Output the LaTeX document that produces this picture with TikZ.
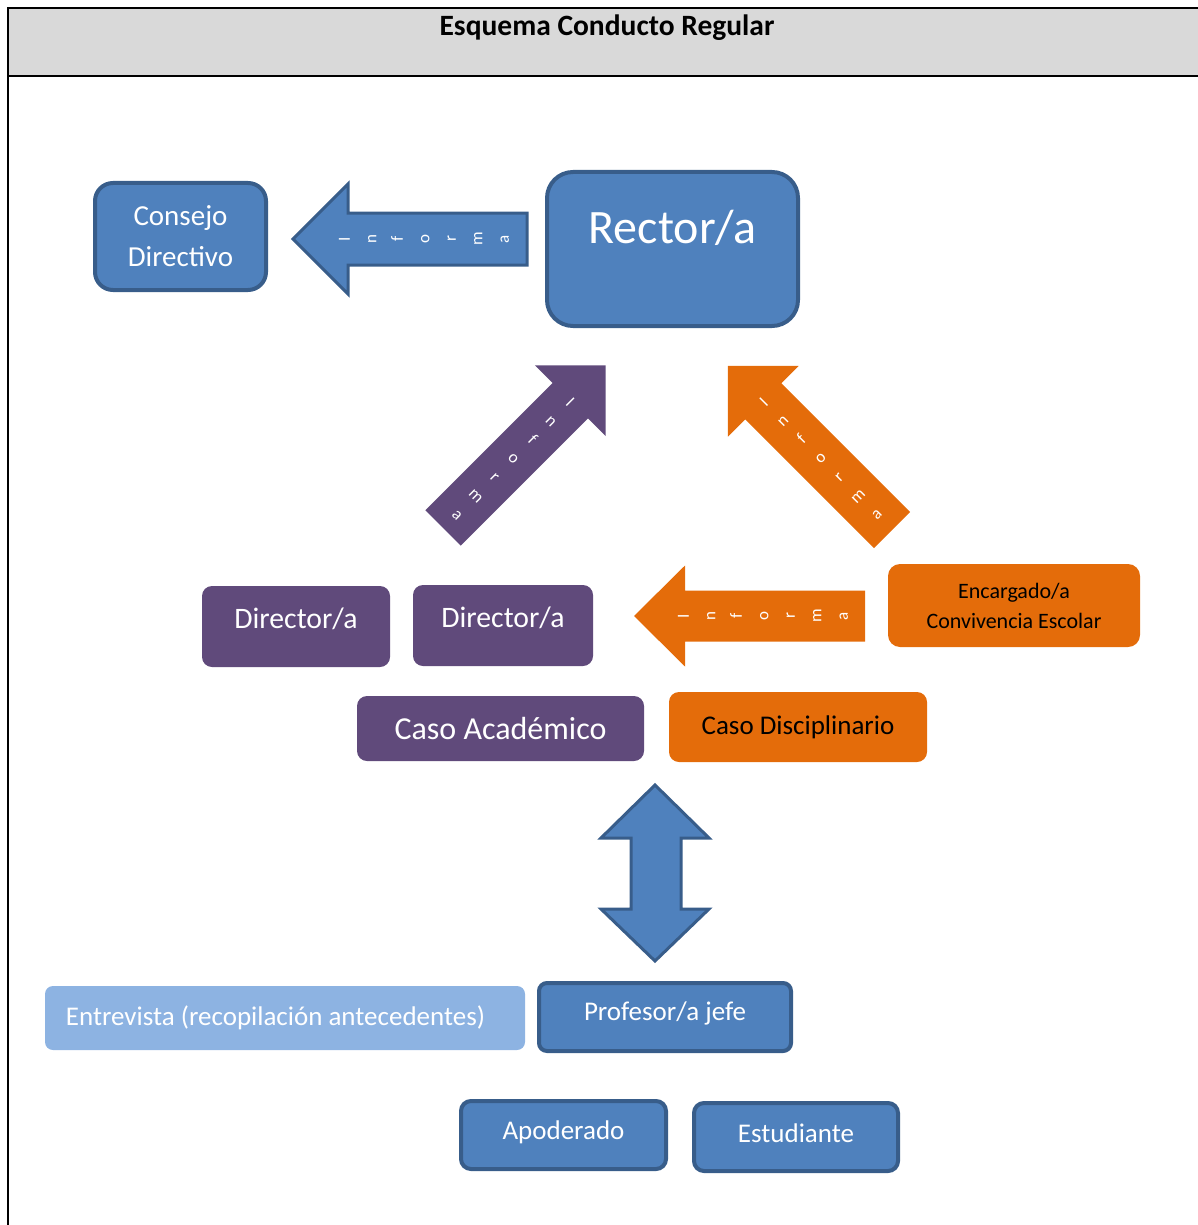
\documentclass[tikz,border=0pt]{standalone}
\usepackage{fontspec}
\setmainfont{Carlito}
\usepackage{tikz}
\definecolor{boxblue}{HTML}{4F81BD}
\definecolor{edgeblue}{HTML}{385D8A}
\definecolor{boxpurple}{HTML}{604A7B}
\definecolor{boxorange}{HTML}{E46C0A}
\definecolor{lightblue}{HTML}{8DB3E2}
\definecolor{titlegray}{HTML}{D9D9D9}

\begin{document}
\begin{tikzpicture}[x=1pt, y=-1pt,
        bluebox/.style={draw=edgeblue, line width=4pt, fill=boxblue, text=white, align=center, inner sep=0pt},
        purplebox/.style={fill=boxpurple, text=white, align=center, rounded corners=10pt, inner sep=0pt},
        orangebox/.style={fill=boxorange, text=black, align=center, rounded corners=12pt, inner sep=0pt},
        bluearrow/.style={draw=edgeblue, line width=3pt, fill=boxblue, line join=miter},
        purplearrow/.style={fill=boxpurple},
        orangearrow/.style={fill=boxorange},
        informa/.style={text=white, align=center, inner sep=0pt, font=\fontsize{17}{26.5}\selectfont}]

        \useasboundingbox (0,0) rectangle (1198,1225);

        % Title bar and frame
        \fill[titlegray] (8,8) rectangle (1198,76);
        \draw[line width=2.5pt] (8,1225) -- (8,8) -- (1198,8);
        \draw[line width=2.5pt] (8,76) -- (1198,76);
        \node[font=\bfseries\fontsize{29.5}{35}\selectfont] (titulo) at (607,28) {Esquema Conducto Regular};

        % Top row
        \node[bluebox, rounded corners=18pt, minimum width=171pt, minimum height=107pt, font=\fontsize{29}{41}\selectfont] (consejo) at (180.5,236.5) {Consejo\\Directivo};
        \node[bluebox, rounded corners=26pt, minimum width=251pt, minimum height=154pt, font=\fontsize{48}{57}\selectfont, text depth=44pt] (rector) at (672.5,249) {Rector/a};

        % Informa arrow to Consejo Directivo
        \begin{scope}[shift={(527,239)}, rotate=180]
            \draw[bluearrow] (0,-26) -- (179,-26) -- (179,-55) -- (234,0) -- (179,55) -- (179,26) -- (0,26) -- cycle;
        \end{scope}
        \node[informa, rotate=90] (informaA) at (424,239) {I\\n\\f\\o\\r\\m\\a};

        % Informa arrows to Rector/a
        \begin{scope}[shift={(443,528)}, rotate=45]
            \fill[purplearrow] (0,-25) -- (180,-25) -- (180,-50) -- (230,0) -- (180,50) -- (180,25) -- (0,25) -- cycle;
        \end{scope}
        \node[informa, rotate=-45] (informaB) at (514,458) {I\\n\\f\\o\\r\\m\\a};

        \begin{scope}[shift={(892,530)}, rotate=135]
            \fill[orangearrow] (0,-25.5) -- (182,-25.5) -- (182,-50) -- (232,0) -- (182,50) -- (182,25.5) -- (0,25.5) -- cycle;
        \end{scope}
        \node[informa, rotate=45] (informaC) at (820,458) {I\\n\\f\\o\\r\\m\\a};

        % Middle row
        \node[purplebox, minimum width=188pt, minimum height=81pt, font=\fontsize{29.7}{35}\selectfont, text depth=17pt] (director1) at (296,626.5) {Director/a};
        \node[purplebox, minimum width=180pt, minimum height=81pt, font=\fontsize{29.7}{35}\selectfont, text depth=17pt] (director2) at (503,625.5) {Director/a};
        \node[orangebox, minimum width=252pt, minimum height=83pt, font=\fontsize{22}{30}\selectfont] (encargado) at (1014,605.5) {Encargado/a\\Convivencia Escolar};

        % Informa arrow to Director/a
        \begin{scope}[shift={(865,616)}, rotate=180]
            \fill[orangearrow] (0,-25.5) -- (180,-25.5) -- (180,-50.5) -- (231,0) -- (180,50.5) -- (180,25.5) -- (0,25.5) -- cycle;
        \end{scope}
        \node[informa, rotate=90] (informaD) at (763,616) {I\\n\\f\\o\\r\\m\\a};

        % Cases
        \node[purplebox, minimum width=287pt, minimum height=65pt, font=\fontsize{32}{38}\selectfont] (academico) at (500.5,728.5) {Caso Académico};
        \node[orangebox, rounded corners=10pt, minimum width=258pt, minimum height=70pt, font=\fontsize{27}{32}\selectfont] (disciplinario) at (798,727) {Caso Disciplinario};

        % Double arrow
        \draw[bluearrow] (655,785) -- (709,838) -- (681,838) -- (681,909) -- (709,909) -- (655,961)
            -- (601,909) -- (631,909) -- (631,838) -- (601,838) -- cycle;

        % Bottom rows
        \node[fill=lightblue, text=white, rounded corners=8pt, inner sep=0pt, minimum width=480pt, minimum height=64pt, font=\fontsize{27}{32}\selectfont] (entrevista) at (285,1018) {Entrevista (recopilación antecedentes)\hspace*{19pt}};
        \node[bluebox, rounded corners=8pt, minimum width=252pt, minimum height=68pt, font=\fontsize{27}{32}\selectfont, text depth=11pt] (profesor) at (665,1017) {Profesor/a jefe};
        \node[bluebox, rounded corners=10pt, minimum width=205pt, minimum height=68pt, font=\fontsize{27}{32}\selectfont, text depth=9pt] (apoderado) at (563.5,1135) {Apoderado};
        \node[bluebox, rounded corners=10pt, minimum width=204pt, minimum height=68pt, font=\fontsize{27}{32}\selectfont, text depth=8pt] (estudiante) at (796,1137) {Estudiante};
    \end{tikzpicture}
\end{document}
